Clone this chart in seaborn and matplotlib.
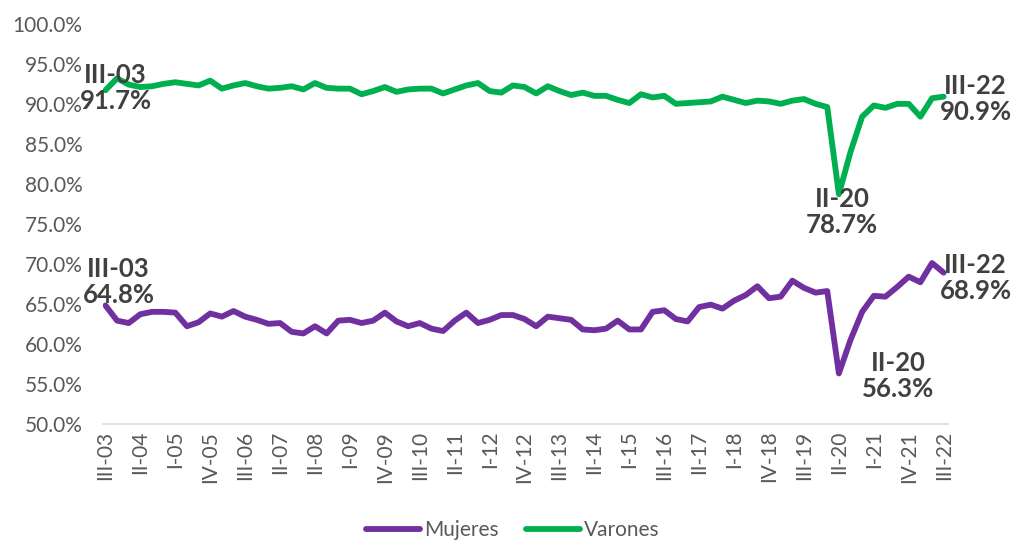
import numpy as np
import pandas as pd
import matplotlib
matplotlib.use("Agg")
import matplotlib.pyplot as plt
import seaborn as sns
from matplotlib.ticker import FuncFormatter

sns.set_theme(style="white")
plt.rcParams['font.family'] = ['Lato', 'DejaVu Sans']

#%% Datos (trimestres con datos; faltan III-07, III-15, IV-15 y I-16)
trimestres = [
    "III-03", "IV-03", "I-04", "II-04", "III-04", "IV-04", "I-05", "II-05", "III-05", "IV-05",
    "I-06", "II-06", "III-06", "IV-06", "I-07", "II-07", "IV-07", "I-08", "II-08", "III-08",
    "IV-08", "I-09", "II-09", "III-09", "IV-09", "I-10", "II-10", "III-10", "IV-10", "I-11",
    "II-11", "III-11", "IV-11", "I-12", "II-12", "III-12", "IV-12", "I-13", "II-13", "III-13",
    "IV-13", "I-14", "II-14", "III-14", "IV-14", "I-15", "II-15", "II-16", "III-16", "IV-16",
    "I-17", "II-17", "III-17", "IV-17", "I-18", "II-18", "III-18", "IV-18", "I-19", "II-19",
    "III-19", "IV-19", "I-20", "II-20", "III-20", "IV-20", "I-21", "II-21", "III-21", "IV-21",
    "I-22", "II-22", "III-22",
]

mujeres = [
    64.8, 62.9, 62.6, 63.7, 64.0, 64.0, 63.9, 62.2, 62.7, 63.8,
    63.4, 64.1, 63.4, 63.0, 62.5, 62.6, 61.5, 61.3, 62.2, 61.3,
    62.9, 63.0, 62.6, 62.9, 63.9, 62.8, 62.2, 62.6, 61.9, 61.6,
    62.9, 63.9, 62.6, 63.0, 63.6, 63.6, 63.1, 62.2, 63.4, 63.2,
    63.0, 61.8, 61.7, 61.9, 62.9, 61.8, 61.8, 64.0, 64.2, 63.1,
    62.8, 64.6, 64.9, 64.4, 65.4, 66.1, 67.2, 65.7, 65.9, 67.9,
    67.0, 66.4, 66.6, 56.3, 60.5, 64.0, 66.0, 65.9, 67.1, 68.4,
    67.7, 70.1, 68.9,
]

varones = [
    91.7, 93.2, 92.4, 92.1, 92.2, 92.5, 92.7, 92.5, 92.3, 92.9,
    91.9, 92.3, 92.6, 92.2, 91.9, 92.0, 92.2, 91.8, 92.6, 92.0,
    91.9, 91.9, 91.2, 91.6, 92.1, 91.5, 91.8, 91.9, 91.9, 91.3,
    91.8, 92.3, 92.6, 91.6, 91.4, 92.3, 92.1, 91.3, 92.2, 91.6,
    91.1, 91.4, 91.0, 91.0, 90.5, 90.1, 91.2, 90.8, 91.0, 90.0,
    90.1, 90.2, 90.3, 90.9, 90.5, 90.1, 90.4, 90.3, 90.0, 90.4,
    90.6, 90.0, 89.6, 78.7, 84.0, 88.4, 89.8, 89.5, 90.0, 90.0,
    88.4, 90.7, 90.9,
]

N = len(trimestres)
df = pd.DataFrame({
    'i': list(range(N)) * 2,
    'tasa': mujeres + varones,
    'serie': ['Mujeres'] * N + ['Varones'] * N,
})
colores = {'Mujeres': '#7030A0', 'Varones': '#00B050'}
gris = '#595959'

#%% Figura
fig, ax = plt.subplots(figsize=(10.11, 5.42), dpi=100)
fig.subplots_adjust(left=0.102, right=0.938, top=0.956, bottom=0.218)

sns.lineplot(data=df, x='i', y='tasa', hue='serie', palette=colores,
             linewidth=4.2, sort=False, ax=ax)
for line in ax.lines:
    line.set_solid_joinstyle('round')
    line.set_solid_capstyle('round')

ax.set_ylim(50, 100)
ax.set_yticks(np.arange(50, 100.1, 5))
ax.yaxis.set_major_formatter(FuncFormatter(lambda v, p: f"{v:.1f}%"))
ax.set_xlim(-0.2, 72.4)
ax.set_xticks(range(0, N, 3))
ax.set_xticklabels(trimestres[::3], rotation=90)
ax.set_xlabel("")
ax.set_ylabel("")

for s in ['top', 'right', 'left']:
    ax.spines[s].set_visible(False)
ax.spines['bottom'].set_color('#D9D9D9')
ax.spines['bottom'].set_linewidth(1.2)
ax.tick_params(axis='both', length=0, colors=gris, labelsize=15)
ax.tick_params(axis='y', pad=15)
ax.tick_params(axis='x', pad=5)

# etiquetas de datos (inicio, mínimo II-20 y final)
etiquetas = [
    ('Varones', 0, (10, 2)), ('Mujeres', 0, (13, 23)),
    ('Varones', 63, (3, -18)), ('Mujeres', 63, (59, -3)),
    ('Varones', 72, (32, -2)), ('Mujeres', 72, (32, -5)),
]
valores = {'Mujeres': mujeres, 'Varones': varones}
for serie, k, off in etiquetas:
    v = valores[serie][k]
    ax.annotate(f"{trimestres[k]}\n{v:.1f}%", xy=(k, v), xytext=off,
                textcoords='offset pixels', ha='center', va='center',
                fontsize=18.5, fontweight='bold', color='#404040', linespacing=1.1)

leg = ax.legend(loc='center', bbox_to_anchor=(0.507, 0.022), bbox_transform=fig.transFigure,
                ncol=2, frameon=False, fontsize=15, handlelength=2.6,
                handletextpad=0.2, columnspacing=1.3)
for t in leg.get_texts():
    t.set_color(gris)
for h in leg.get_lines():
    h.set_linewidth(4.2)

plt.savefig("out.png", dpi=100)
